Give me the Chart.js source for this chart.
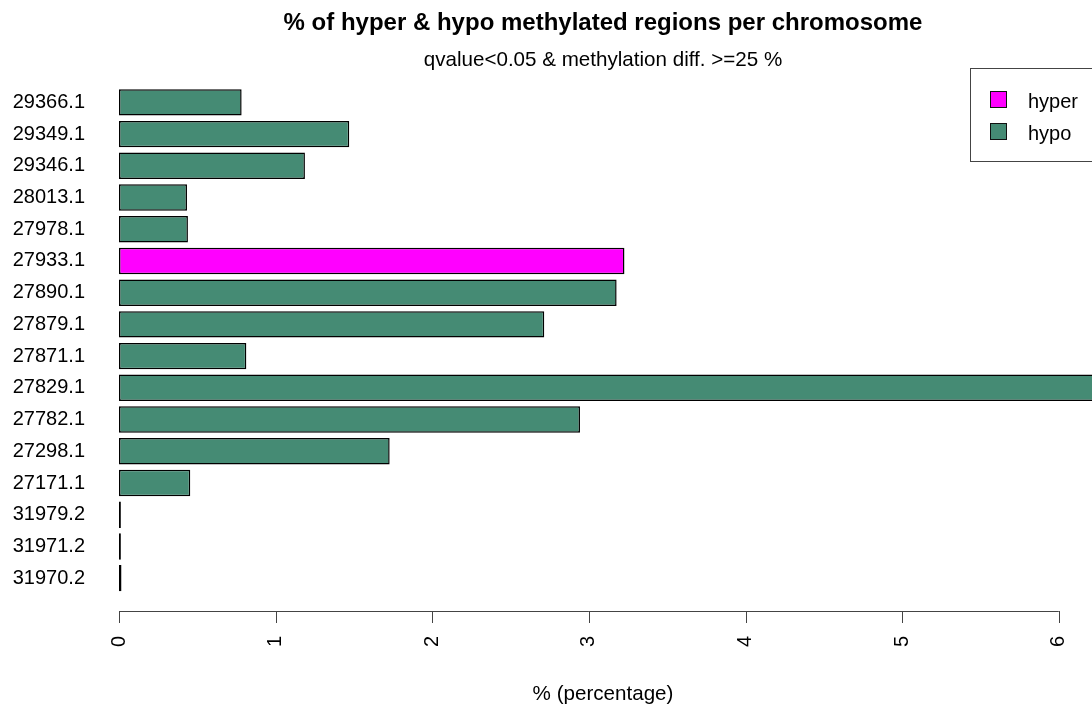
<!DOCTYPE html>
<html>
<head>
<meta charset="utf-8">
<script src="https://cdn.jsdelivr.net/npm/chart.js@4"></script>
<style>
  html, body { margin: 0; padding: 0; background: #fff; overflow: hidden; }
  #wrap { width: 1092px; height: 710px; }
</style>
</head>
<body>
<div id="wrap"><canvas id="methChart"></canvas></div>
<script>
// chromosomes, top to bottom
const chromosomes = ['29366.1', '29349.1', '29346.1', '28013.1', '27978.1', '27933.1', '27890.1', '27879.1',
    '27871.1', '27829.1', '27782.1', '27298.1', '27171.1', '31979.2', '31971.2', '31970.2'];

// % of regions per chromosome
const hyperValues = [0, 0, 0, 0, 0, 3.227, 0, 0, 0, 0, 0, 0, 0, 0, 0, 0];
const hypoValues = [0.783, 1.47, 1.187, 0.434, 0.44, 0, 3.177, 2.715, 0.813, 6.45, 2.943, 1.728, 0.455, 0.012, 0.012, 0.016];

const xTicks = [0, 1, 2, 3, 4, 5, 6];

const FONT = 'Liberation Sans, Arial, sans-serif';

// R-style x axis: line from first to last tick, below the bars
const axisPlugin = {
    id: 'rAxis',
    afterDraw(chart) {
        const ctx = chart.ctx;
        const xs = chart.scales.x;
        const y0 = chart.chartArea.bottom + 17;
        ctx.save();
        ctx.strokeStyle = '#444';
        ctx.lineWidth = 1;
        ctx.beginPath();
        ctx.moveTo(xs.getPixelForValue(xTicks[0]), y0 + 0.5);
        ctx.lineTo(xs.getPixelForValue(xTicks[xTicks.length - 1]), y0 + 0.5);
        xTicks.forEach(function (v) {
            const px = Math.round(xs.getPixelForValue(v)) + 0.5;
            ctx.moveTo(px, y0);
            ctx.lineTo(px, y0 + 12);
        });
        ctx.stroke();
        ctx.restore();
    }
};

// boxed legend in the top right corner
const legendPlugin = {
    id: 'rLegend',
    afterDraw(chart) {
        const ctx = chart.ctx;
        ctx.save();
        ctx.strokeStyle = '#444';
        ctx.lineWidth = 1;
        ctx.strokeRect(970.5, 68.5, 200, 93);
        ctx.font = '20px ' + FONT;
        ctx.textBaseline = 'middle';
        chart.data.datasets.forEach(function (ds, i) {
            const top = 91 + i * 32;
            ctx.fillStyle = ds.backgroundColor;
            ctx.fillRect(990, top, 17, 17);
            ctx.strokeStyle = '#111';
            ctx.strokeRect(990.5, top + 0.5, 16, 16);
            ctx.fillStyle = '#000';
            ctx.fillText(ds.label, 1028, top + 11);
        });
        ctx.restore();
    }
};

const ctx = document.getElementById('methChart').getContext('2d');
const methChart = new Chart(ctx, {
    type: 'bar',
    data: {
        labels: chromosomes,
        datasets: [{
            label: 'hyper',
            data: hyperValues,
            backgroundColor: '#FF00FF',
            borderColor: '#000',
            borderWidth: 1.5,
            borderSkipped: false,
            clip: false
        }, {
            label: 'hypo',
            data: hypoValues,
            backgroundColor: '#458B74',
            borderColor: '#000',
            borderWidth: 1.5,
            borderSkipped: false,
            clip: false
        }]
    },
    options: {
        indexAxis: 'y',
        responsive: true,
        maintainAspectRatio: false,
        animation: false,
        layout: { padding: { left: 0, right: 5, top: 0, bottom: 0 } },
        datasets: {
            bar: { categoryPercentage: 1, barPercentage: 1 / 1.2 }
        },
        scales: {
            x: {
                type: 'linear',
                stacked: true,
                min: 0,
                max: 6.18,
                grid: { display: false, drawTicks: false },
                border: { display: false },
                ticks: {
                    stepSize: 1,
                    minRotation: 90,
                    maxRotation: 90,
                    padding: 42,
                    color: '#000',
                    font: { family: FONT, size: 20 }
                },
                afterBuildTicks: function (scale) {
                    scale.ticks = xTicks.map(function (v) { return { value: v }; });
                },
                afterFit: function (scale) {
                    scale.height = 116;
                    scale.paddingLeft = 0;
                    scale.paddingRight = 0;
                },
                title: {
                    display: true,
                    text: '% (percentage)',
                    color: '#000',
                    font: { family: FONT, size: 20.6 },
                    padding: { top: 0, bottom: 3 }
                }
            },
            y: {
                stacked: true,
                grid: { display: false, drawTicks: false },
                border: { display: false },
                ticks: {
                    padding: 34,
                    color: '#000',
                    font: { family: FONT, size: 20 }
                },
                afterFit: function (scale) { scale.width = 119; }
            }
        },
        plugins: {
            legend: { display: false },
            tooltip: { enabled: false },
            title: {
                display: true,
                fullSize: false,
                text: '% of hyper & hypo methylated regions per chromosome',
                color: '#000',
                font: { family: FONT, size: 24, weight: 'bold' },
                padding: { top: 9, bottom: 0 }
            },
            subtitle: {
                display: true,
                fullSize: false,
                text: 'qvalue<0.05 & methylation diff. >=25 %',
                color: '#000',
                font: { family: FONT, size: 20.6 },
                padding: { top: 10, bottom: 14 }
            }
        }
    },
    plugins: [axisPlugin, legendPlugin]
});
</script>
</body>
</html>
